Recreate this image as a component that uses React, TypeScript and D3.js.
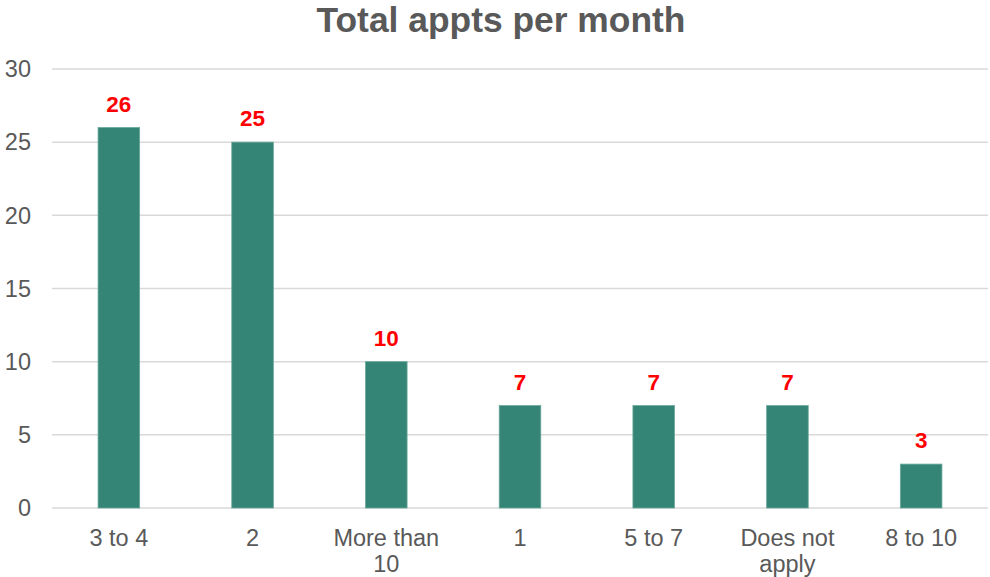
import React from "react";
import * as d3 from "d3";

const categories = ["3 to 4", "2", "More than 10", "1", "5 to 7", "Does not apply", "8 to 10"];
const values = [26, 25, 10, 7, 7, 7, 3];
const yTicks = [0, 5, 10, 15, 20, 25, 30];
const title = "Total appts per month";

const W = 990;
const H = 577;
const FONT = "'Liberation Sans', Arial, Helvetica, sans-serif";

function wrap(label: string, maxChars: number): string[] {
  const words = label.split(" ");
  const lines: string[] = [];
  let cur = "";
  for (const w of words) {
    const next = cur ? cur + " " + w : w;
    if (next.length > maxChars && cur) {
      lines.push(cur);
      cur = w;
    } else {
      cur = next;
    }
  }
  if (cur) lines.push(cur);
  return lines;
}

export default function App() {
  const x = d3.scaleBand<string>().domain(categories).range([52, 988]).padding(0);
  const y = d3.scaleLinear().domain([0, 30]).range([508, 69]);
  const barW = x.bandwidth() * 0.311;

  return (
    <svg width={W} height={H} style={{ position: "absolute", left: 0, top: 0, background: "#fff" }}>
      <text x={501} y={32} textAnchor="middle" fontFamily={FONT} fontWeight="bold" fontSize={35.4} fill="#595959">
        {title}
      </text>
      {yTicks.map((t) => (
        <g key={t}>
          <line x1={52} x2={988} y1={y(t)} y2={y(t)} stroke="#d9d9d9" strokeWidth={1.5} />
          <text x={31} y={y(t)} dy="0.35em" textAnchor="end" fontFamily={FONT} fontSize={23.5} fill="#595959">
            {t}
          </text>
        </g>
      ))}
      {categories.map((c, i) => {
        const cx = (x(c) as number) + x.bandwidth() / 2;
        const v = values[i];
        const lines = wrap(c, 9);
        return (
          <g key={c}>
            <rect
              x={cx - barW / 2}
              y={y(v)}
              width={barW}
              height={y(0) - y(v)}
              fill="#358577"
              stroke="#6aa79b"
              strokeWidth={0.8}
            />
            <text x={cx} y={y(v) - 16} textAnchor="middle" fontFamily={FONT} fontWeight="bold" fontSize={22.5} fill="#ff0000">
              {v}
            </text>
            <text textAnchor="middle" fontFamily={FONT} fontSize={23.5} fill="#595959">
              {lines.map((l, j) => (
                <tspan key={j} x={cx} y={546 + j * 26}>
                  {l}
                </tspan>
              ))}
            </text>
          </g>
        );
      })}
    </svg>
  );
}
